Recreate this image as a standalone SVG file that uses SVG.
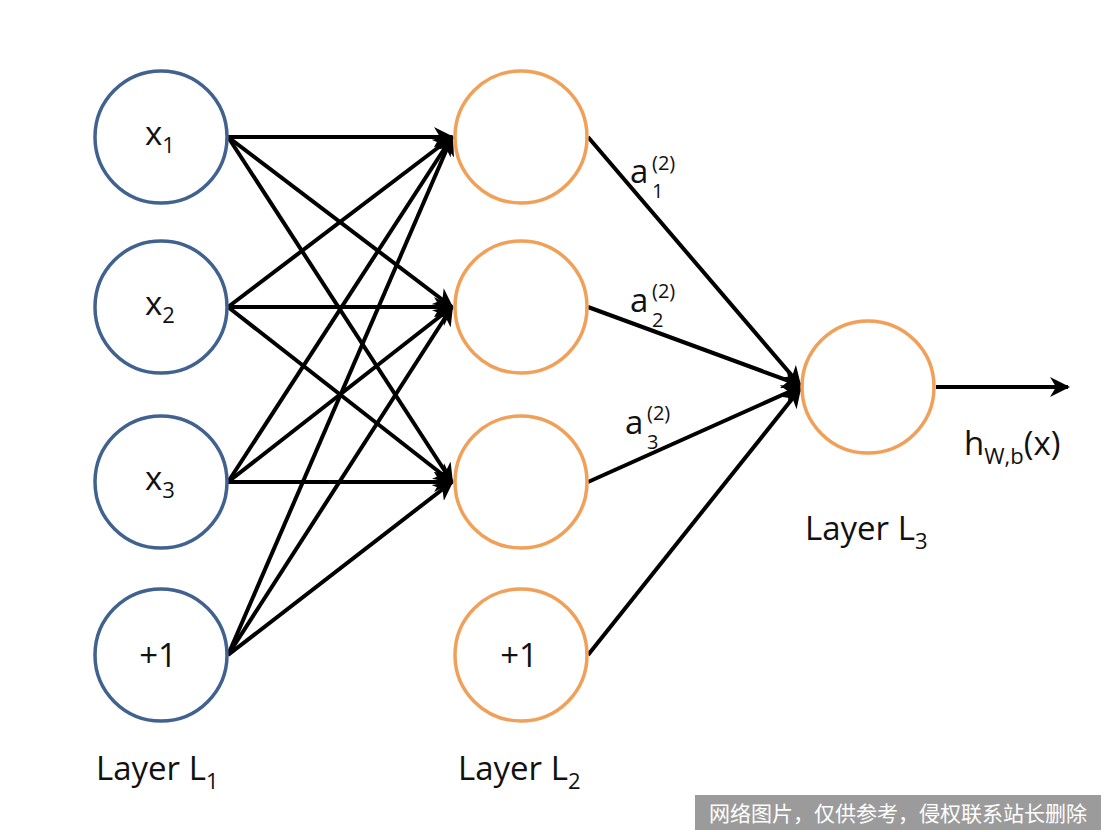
<svg xmlns="http://www.w3.org/2000/svg" width="1106" height="832" viewBox="0 0 1106 832">
<style>
.b{fill:#fff;stroke:#41628f;stroke-width:3.5}
.o{fill:#fff;stroke:#f0a058;stroke-width:3.5}
.e line{stroke:#000;stroke-width:4}
text{font-family:"Open Sans","Liberation Sans",sans-serif;fill:#111;font-size:33px}
.s{font-size:22px}
.t{font-size:20px}
</style>
<defs>
<marker id="ar" viewBox="0 0 10 10" refX="9" refY="5" markerWidth="5" markerHeight="5" orient="auto" markerUnits="strokeWidth">
<path d="M0,0 L10,5 L0,10 L3,5 Z" fill="#000"/>
</marker>
</defs>
<rect width="1106" height="832" fill="#fff"/>
<g class="e" id="connectors">
<line x1="228" y1="137" x2="452" y2="137" marker-end="url(#ar)"/>
<line x1="228" y1="137" x2="452" y2="307" marker-end="url(#ar)"/>
<line x1="228" y1="137" x2="452" y2="482" marker-end="url(#ar)"/>
<line x1="228" y1="307" x2="452" y2="137" marker-end="url(#ar)"/>
<line x1="228" y1="307" x2="452" y2="307" marker-end="url(#ar)"/>
<line x1="228" y1="307" x2="452" y2="482" marker-end="url(#ar)"/>
<line x1="228" y1="482" x2="452" y2="137" marker-end="url(#ar)"/>
<line x1="228" y1="482" x2="452" y2="307" marker-end="url(#ar)"/>
<line x1="228" y1="482" x2="452" y2="482" marker-end="url(#ar)"/>
<line x1="228" y1="655" x2="452" y2="137" marker-end="url(#ar)"/>
<line x1="228" y1="655" x2="452" y2="307" marker-end="url(#ar)"/>
<line x1="228" y1="655" x2="452" y2="482" marker-end="url(#ar)"/>
<line x1="588" y1="137" x2="800" y2="385" marker-end="url(#ar)"/>
<line x1="588" y1="307" x2="800" y2="385" marker-end="url(#ar)"/>
<line x1="588" y1="482" x2="800" y2="387" marker-end="url(#ar)"/>
<line x1="588" y1="655" x2="800" y2="389" marker-end="url(#ar)"/>
<line x1="936" y1="387" x2="1068" y2="387" marker-end="url(#ar)"/>
</g>
<g id="x1"><circle class="b" cx="161" cy="137" r="66"/><text x="145" y="145">x<tspan class="s" dy="8">1</tspan></text></g>
<g id="x2"><circle class="b" cx="161" cy="307" r="66"/><text x="145" y="315">x<tspan class="s" dy="8">2</tspan></text></g>
<g id="x3"><circle class="b" cx="161" cy="482" r="66"/><text x="145" y="490">x<tspan class="s" dy="8">3</tspan></text></g>
<g id="b1"><circle class="b" cx="161" cy="655" r="66"/><text x="158" y="667" text-anchor="middle">+1</text></g>
<g id="h1"><circle class="o" cx="521" cy="137" r="66"/></g>
<g id="h2"><circle class="o" cx="521" cy="307" r="66"/></g>
<g id="h3"><circle class="o" cx="521" cy="482" r="66"/></g>
<g id="b2"><circle class="o" cx="521" cy="655" r="66"/><text x="519" y="667" text-anchor="middle">+1</text></g>
<g id="out"><circle class="o" cx="868" cy="387" r="66"/></g>
<g id="labels">
<text x="630" y="183">a</text><text class="t" x="652" y="198">1</text><text class="t" x="652" y="170">(2)</text>
<text x="630" y="312">a</text><text class="t" x="652" y="327">2</text><text class="t" x="652" y="298">(2)</text>
<text x="625" y="434">a</text><text class="t" x="647" y="449">3</text><text class="t" x="647" y="420">(2)</text>
<text x="964" y="455">h<tspan class="s" dy="9">W,b</tspan><tspan dy="-9">(x)</tspan></text>
<text x="96" y="780">Layer L<tspan class="s" dy="9">1</tspan></text>
<text x="458" y="780">Layer L<tspan class="s" dy="9">2</tspan></text>
<text x="805" y="540">Layer L<tspan class="s" dy="9">3</tspan></text>
</g>
<g id="watermark">
<rect x="695" y="795" width="406" height="35" fill="#8a8a8a" opacity="0.85"/>
<text x="898" y="821" text-anchor="middle" style="font-family:'Noto Sans CJK SC',sans-serif;font-size:21px;fill:#fff">网络图片，仅供参考，侵权联系站长删除</text>
</g>
</svg>
